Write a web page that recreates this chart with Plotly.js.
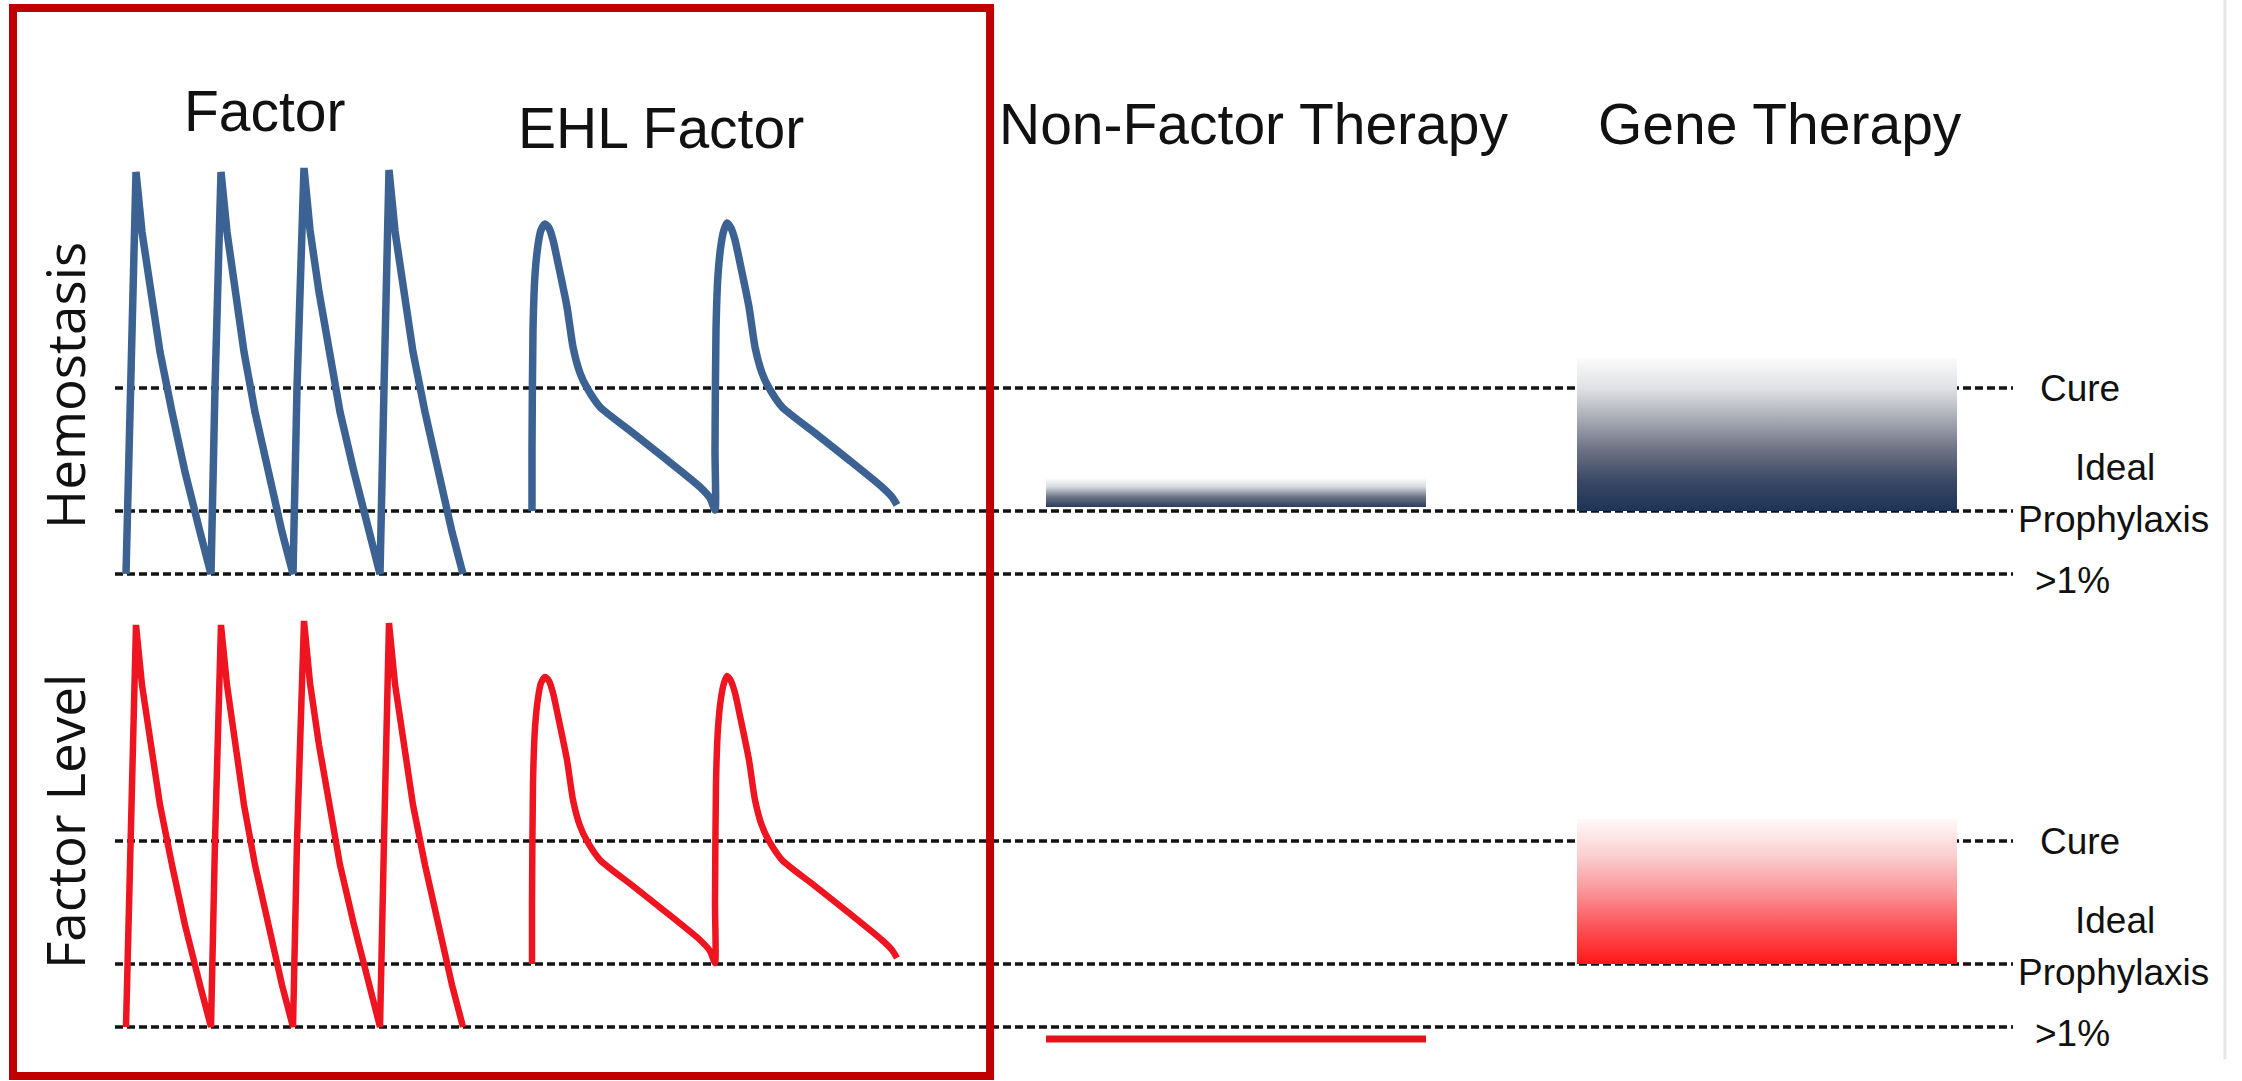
<!DOCTYPE html>
<html>
<head>
<meta charset="utf-8">
<script src="https://cdn.plot.ly/plotly-3.0.1.min.js"></script>
<style>
  html, body { margin: 0; padding: 0; background: #ffffff; }
  #chart { width: 2242px; height: 1081px; }
</style>
</head>
<body>
<div id="chart"></div>
<script>
// ---------- data ----------
const columnTitles = ['Factor', 'EHL Factor', 'Non-Factor Therapy', 'Gene Therapy'];
const panelLabels = ['Hemostasis', 'Factor Level'];

const thresholdLabels = ['>1%', 'Ideal Prophylaxis', 'Cure'];
const thresholdLevels = [0, 6.3, 18.6];
const thresholdSpan = [-1.1, 188.7];

// standard factor: four sawtooth infusions
const factorTime  = [0, 0.4, 1.0, 1.6, 2.5, 3.4, 4.6, 5.9, 7.4, 8.5,
                     8.9, 9.5, 10.1, 10.9, 11.8, 12.9, 14.2, 15.6, 16.7,
                     17.1, 17.8, 18.4, 19.3, 20.3, 21.4, 22.8, 24.3, 25.4,
                     25.8, 26.3, 26.9, 27.8, 28.7, 29.9, 31.2, 32.6, 33.7];
const factorLevel = [0, 18.6, 40.2, 34.2, 28.2, 22.2, 16.2, 10.2, 4.2, 0,
                     18.6, 40.2, 34.2, 28.2, 22.2, 16.2, 10.2, 4.2, 0,
                     18.6, 40.6, 34.4, 28.2, 22.2, 16.2, 10.2, 4.2, 0,
                     18.6, 40.4, 34.3, 28.2, 22.2, 16.2, 10.2, 4.2, 0];

// extended half-life factor: two infusions
const ehlTime  = [40.6, 40.6, 40.7, 40.9, 41.2, 41.5, 41.9, 42.3, 42.7, 43.2, 44.1, 44.7, 45.4, 46.1, 47.4, 50.7, 54.1, 57.4, 58.4, 58.9,
                  58.9, 59.0, 59.2, 59.5, 59.8, 60.1, 60.5, 60.9, 61.4, 62.3, 62.9, 63.6, 64.3, 65.6, 68.9, 72.3, 75.6, 76.6, 77.1];
const ehlLevel = [6.3, 12.4, 24.4, 29.9, 32.9, 34.4, 35.0, 34.6, 33.4, 31.1, 26.7, 22.7, 20.1, 18.6, 16.7, 14.1, 11.4, 8.7, 7.6, 6.4,
                  12.4, 24.4, 29.9, 32.9, 34.4, 35.1, 34.6, 33.4, 31.1, 26.7, 22.7, 20.1, 18.6, 16.7, 14.1, 11.4, 8.7, 7.7, 6.9];

// non-factor therapy
const nonFactorSpan = [92.0, 130.0];
const nonFactorHemostasis = [6.7, 9.6];   // bottom, top of band
const nonFactorLevel = -1.2;              // factor level stays below 1%

// gene therapy
const geneSpan = [145.1, 183.1];
const geneHemostasis = [6.3, 21.6];
const geneLevel = [6.3, 20.8];

// ---------- styling ----------
const BLUE = '#3b6293';
const RED = '#ef1520';
const LW = 7.5;
const DASH = {color: '#121212', width: 3.5, dash: '8px,4px'};

function thresholdTrace(yaxis) {
  const xs = [], ys = [];
  thresholdLevels.forEach(l => { xs.push(thresholdSpan[0], thresholdSpan[1], null); ys.push(l, l, null); });
  return {x: xs, y: ys, yaxis: yaxis, mode: 'lines', line: DASH, hoverinfo: 'skip', showlegend: false};
}

function gradientBox(span, range, yaxis, colorscale) {
  return {
    x: [span[0], span[1], span[1], span[0], span[0]],
    y: [range[0], range[0], range[1], range[1], range[0]],
    yaxis: yaxis, mode: 'lines', fill: 'toself', line: {width: 0},
    fillgradient: {type: 'vertical', colorscale: colorscale},
    hoverinfo: 'skip', showlegend: false
  };
}

const navyScale = [[0, '#1c3358'], [0.2, '#3a4966'], [0.4, '#6c7284'], [0.6, '#a9abb4'], [0.8, '#e0e1e4'], [1, '#fbfbfb']];
const navyThin  = [[0, '#2a3d5d'], [0.35, '#6d7789'], [0.7, '#d8dbdf'], [1, '#ffffff']];
const redScale  = [[0, '#ff1717'], [0.25, '#fc5256'], [0.5, '#f99599'], [0.75, '#fbcfd0'], [1, '#fff9f9']];

const traces = [
  thresholdTrace('y'),
  thresholdTrace('y2'),
  gradientBox(nonFactorSpan, nonFactorHemostasis, 'y', navyThin),
  gradientBox(geneSpan, geneHemostasis, 'y', navyScale),
  gradientBox(geneSpan, geneLevel, 'y2', redScale),
  {x: nonFactorSpan, y: [nonFactorLevel, nonFactorLevel], yaxis: 'y2', mode: 'lines',
   line: {color: '#e3131b', width: 7}, hoverinfo: 'skip', showlegend: false},
  {x: factorTime, y: factorLevel, yaxis: 'y', mode: 'lines', line: {color: BLUE, width: LW, shape: 'linear'}, showlegend: false},
  {x: ehlTime, y: ehlLevel, yaxis: 'y', mode: 'lines', line: {color: BLUE, width: LW, shape: 'spline', smoothing: 0.6}, showlegend: false},
  {x: factorTime, y: factorLevel, yaxis: 'y2', mode: 'lines', line: {color: RED, width: LW - 1, shape: 'linear'}, showlegend: false},
  {x: ehlTime, y: ehlLevel, yaxis: 'y2', mode: 'lines', line: {color: RED, width: LW - 1, shape: 'spline', smoothing: 0.6}, showlegend: false}
];

const titleFont = {family: 'Liberation Sans, Arial, sans-serif', size: 57, color: '#111111'};
const sideFont = {family: 'Open Sans, Noto Sans, sans-serif', size: 53, color: '#111111'};
const labelFont = {family: 'Liberation Sans, Arial, sans-serif', size: 37, color: '#111111'};

const titleX = [0.1182, 0.2948, 0.5589, 0.7940];
const titleY = [0.8970, 0.8820, 0.8850, 0.8850];

const annotations = [];
columnTitles.forEach((t, i) => annotations.push({
  text: t, xref: 'paper', yref: 'paper', x: titleX[i], y: titleY[i],
  xanchor: 'center', yanchor: 'middle', showarrow: false, font: titleFont
}));
panelLabels.forEach((t, i) => annotations.push({
  text: t, xref: 'paper', yref: 'paper', x: 0.0290, y: [0.643, 0.2396][i],
  xanchor: 'center', yanchor: 'middle', textangle: -90, showarrow: false, font: sideFont
}));
['y', 'y2'].forEach(ax => {
  const items = [
    {text: 'Cure', x: 0.9277, y: 18.5},
    {text: 'Ideal', x: 0.9434, y: 10.6},
    {text: 'Prophylaxis', x: 0.9429, y: 5.4},
    {text: '>1%', x: 0.9242, y: -0.7}
  ];
  items.forEach(it => annotations.push({
    text: it.text, xref: 'paper', yref: ax, x: it.x, y: it.y,
    xanchor: 'center', yanchor: 'middle', showarrow: false, font: labelFont
  }));
});

const layout = {
  width: 2242, height: 1081,
  margin: {l: 0, r: 0, t: 0, b: 0, pad: 0},
  paper_bgcolor: '#ffffff', plot_bgcolor: 'rgba(0,0,0,0)',
  showlegend: false,
  xaxis: {range: [-12.6, 211.6], domain: [0, 1], visible: false, fixedrange: true},
  yaxis: {range: [-2.6, 57.4], domain: [0.445, 1], visible: false, fixedrange: true},
  yaxis2: {range: [-5.4, 42.7], domain: [0, 0.445], visible: false, fixedrange: true},
  annotations: annotations,
  shapes: [
    {type: 'rect', xref: 'paper', yref: 'paper', x0: 0.0058, x1: 0.4416, y0: 0.0046, y1: 0.9926,
     line: {color: '#c00000', width: 8}, fillcolor: 'rgba(0,0,0,0)', layer: 'above'},
    {type: 'line', xref: 'paper', yref: 'paper', x0: 0.9924, x1: 0.9924, y0: 0.02, y1: 1,
     line: {color: '#e6e6e6', width: 3}, layer: 'below'}
  ]
};

Plotly.newPlot('chart', traces, layout, {displayModeBar: false, staticPlot: true});
</script>
</body>
</html>
